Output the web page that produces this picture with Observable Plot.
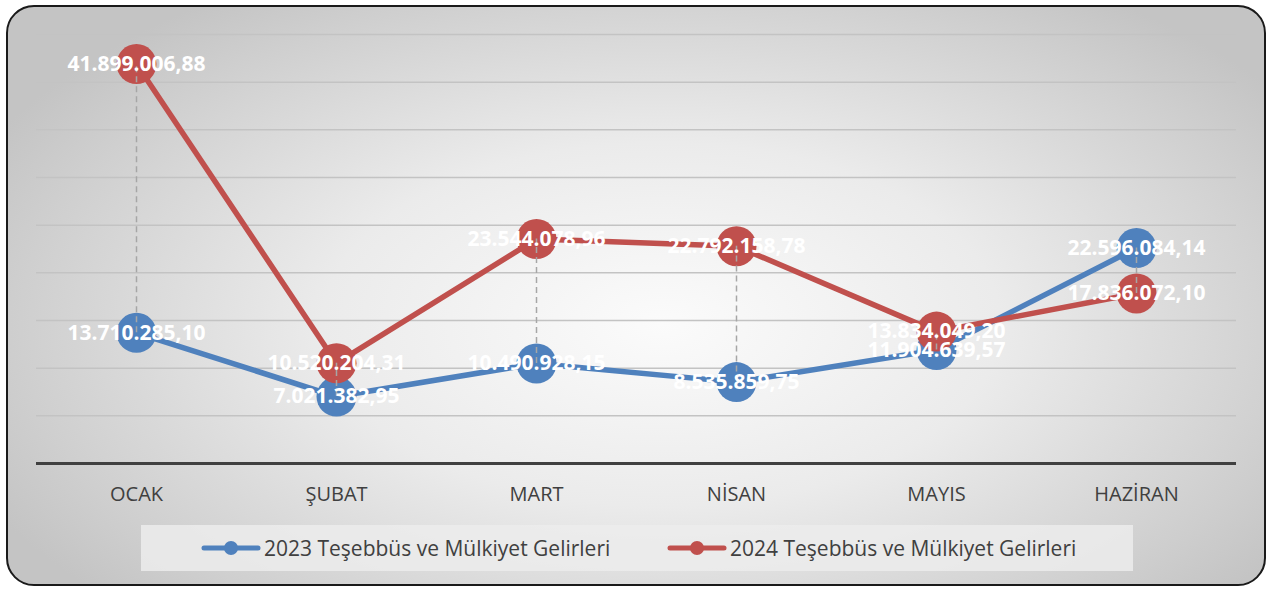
<!DOCTYPE html>
<html>
<head>
<meta charset="utf-8">
<script src="https://cdn.jsdelivr.net/npm/d3@7"></script>
<script src="https://cdn.jsdelivr.net/npm/@observablehq/plot@0.6"></script>
<style>
  html, body { margin: 0; padding: 0; background: #ffffff; }
  #wrap { position: relative; width: 1272px; height: 589px; overflow: hidden; }
  #frame {
    position: absolute; left: 6px; top: 5px; width: 1256px; height: 577px;
    border: 2px solid #1a1a1a; border-radius: 28px;
    background: radial-gradient(ellipse 60% 70% at 52% 55%, #fbfbfb 0%, #ebebeb 45%, #cfcfcf 85%, #c4c4c4 100%);
  }
  #chart { position: absolute; left: 0; top: 0; }
  #legend {
    position: absolute; left: 141px; top: 525px; width: 992px; height: 46px;
    background: rgba(236,236,236,0.85);
    font-family: "Open Sans", sans-serif; font-size: 21px; color: #404040;
  }
  .item { position: absolute; top: 0; height: 46px; display: flex; align-items: center; }
  .item svg { margin-right: 3px; }
</style>
</head>
<body>
<div id="wrap">
  <div id="frame"></div>
  <div id="chart"></div>
  <div id="legend"></div>
</div>
<script>
const months = ["OCAK", "ŞUBAT", "MART", "NİSAN", "MAYIS", "HAZİRAN"];
const values2023 = [13710285.10, 7021382.95, 10490928.15, 8535859.75, 11904639.57, 22596084.14];
const values2024 = [41899006.88, 10520204.31, 23544078.96, 22792158.78, 13834049.20, 17836072.10];
const seriesNames = ["2023 Teşebbüs ve Mülkiyet Gelirleri", "2024 Teşebbüs ve Mülkiyet Gelirleri"];
const seriesColors = ["#4F81BD", "#C0504D"];
const gridTicks = [5e6, 10e6, 15e6, 20e6, 25e6, 30e6, 35e6, 40e6, 45e6];

const trFormat = d3.formatLocale({decimal: ",", thousands: ".", grouping: [3], currency: ["", ""]}).format(",.2f");

const rows = [];
months.forEach((m, i) => {
  rows.push({month: m, series: seriesNames[0], value: values2023[i]});
  rows.push({month: m, series: seriesNames[1], value: values2024[i]});
});
const s23 = rows.filter(d => d.series === seriesNames[0]);
const s24 = rows.filter(d => d.series === seriesNames[1]);
const drops = months.map((m, i) => ({month: m, lo: Math.min(values2023[i], values2024[i]), hi: Math.max(values2023[i], values2024[i])}));

const plot = Plot.plot({
  width: 1272,
  height: 589,
  marginLeft: 36,
  marginRight: 36,
  marginTop: 34,
  marginBottom: 126,
  style: {background: "transparent", fontFamily: "Open Sans, sans-serif"},
  x: {type: "point", domain: months, padding: 0.5, label: null},
  y: {domain: [0, 45e6], axis: null},
  marks: [
    Plot.ruleY(gridTicks, {stroke: "#c3c3c3", strokeWidth: 1.5}),
    Plot.ruleY([0], {stroke: "#404040", strokeWidth: 3}),
    Plot.axisX({tickSize: 0, tickPadding: 23, fontSize: 20, fill: "#404040", color: "#404040", label: null}),
    Plot.line(s23, {x: "month", y: "value", stroke: seriesColors[0], strokeWidth: 5.5}),
    Plot.dot(s23, {x: "month", y: "value", r: 20, fill: seriesColors[0]}),
    Plot.line(s24, {x: "month", y: "value", stroke: seriesColors[1], strokeWidth: 5.5}),
    Plot.dot(s24, {x: "month", y: "value", r: 20, fill: seriesColors[1]}),
    Plot.ruleX(drops, {x: "month", y1: "lo", y2: "hi", stroke: "#a6a6a6", strokeWidth: 1.5, strokeDasharray: "6,4"}),
    Plot.text(s23, {x: "month", y: "value", text: d => trFormat(d.value), fill: "white", fontSize: 21, fontWeight: "bold"}),
    Plot.text(s24, {x: "month", y: "value", text: d => trFormat(d.value), fill: "white", fontSize: 21, fontWeight: "bold"})
  ]
});
document.getElementById("chart").appendChild(plot);

const legend = document.getElementById("legend");
const legendLeft = [60, 526];
seriesNames.forEach((name, i) => {
  const it = document.createElement("div");
  it.className = "item";
  it.style.left = legendLeft[i] + "px";
  it.innerHTML = `<svg width="60" height="16"><line x1="3" y1="8" x2="57" y2="8" stroke="${seriesColors[i]}" stroke-width="5" stroke-linecap="round"/><circle cx="30" cy="8" r="7" fill="${seriesColors[i]}"/></svg><span>${name}</span>`;
  legend.appendChild(it);
});
</script>
</body>
</html>
